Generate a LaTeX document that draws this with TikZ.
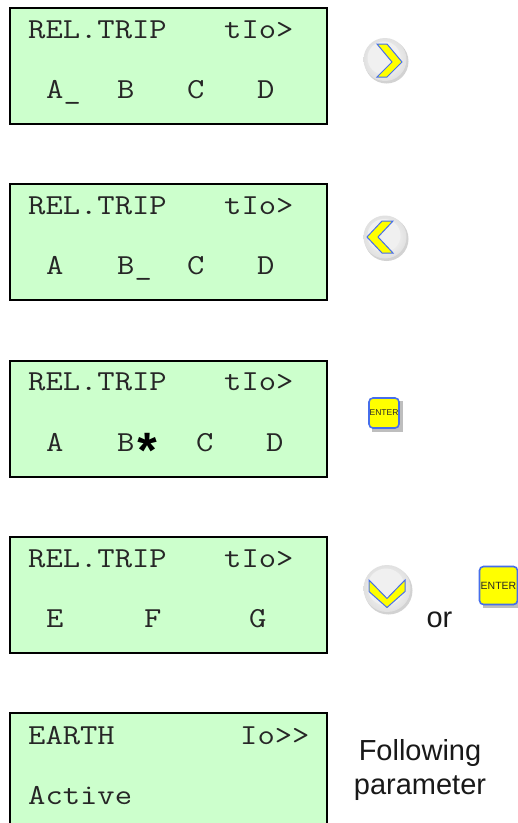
\documentclass[tikz,border=0pt]{standalone}
\usepackage{fontspec}
\setmainfont{Liberation Sans}
\newfontfamily\starfont{Liberation Mono}
\setmonofont[FakeStretch=1.16]{Latin Modern Mono}
\usetikzlibrary{calc}
\definecolor{lcdgreen}{RGB}{204,255,204}
\definecolor{keyblue}{RGB}{70,110,235}
\definecolor{keyyellow}{RGB}{255,255,0}
\definecolor{keygrey}{RGB}{190,190,190}
\tikzset{
  x=1pt,y=-1pt,
  lcdbox/.style={draw=black,line width=2pt,fill=lcdgreen,minimum width=317pt,minimum height=116pt,inner sep=0pt,anchor=north west},
  lcd/.style={font=\ttfamily\fontsize{29}{29}\selectfont,inner sep=0pt,anchor=base west,text=black!85},
  note/.style={font=\fontsize{29}{34}\selectfont,inner sep=0pt,align=center,text=black!90},
  chev/.style={draw=keyblue,line width=1pt,fill=keyyellow,line join=miter},
}
\newcommand{\roundkey}[3]{%
  \fill[keygrey!70] ($(#1)+(1.5,2)$) circle (#3);
  \shade[inner color=white,outer color=black!12] (#1) circle (#3-0.5);
  \fill[black!6] ($(#1)+(-1,-1.5)$) circle (#3-5.5);
  \begin{scope}[shift={(#1)}]#2\end{scope}}
\newcommand{\enterkey}[3]{%
  \fill[keygrey] ($(#1)+(-#2/2+3,-#2/2+3)$) rectangle ($(#1)+(#2/2+3.5,#2/2+3.5)$);
  \node[draw=keyblue,line width=1.6pt,fill=keyyellow,rounded corners=4pt,minimum size=#2 pt,inner sep=0pt,font=\fontsize{#3}{#3}\selectfont,text=black!85] at (#1) {ENTER};}
\begin{document}
\begin{tikzpicture}
\useasboundingbox (0,0) rectangle (518,823);
\fill[white] (0,0) rectangle (518,823);
\begin{scope}
\clip (0,0) rectangle (518,823);
\node[lcdbox] (d1) at (9,7) {};
\node[lcdbox] (d2) at (9,183) {};
\node[lcdbox] (d3) at (9,359.5) {};
\node[lcdbox] (d4) at (9,536) {};
\node[lcdbox,minimum height=130pt] (d5) at (9,712) {};
\end{scope}
% display 1
\node[lcd] (t1a) at (28,38) {REL.TRIP};
\node[lcd] (t1b) at (224,38) {tIo>};
\node[lcd] (t1c) at (46,98) {A\_};
\node[lcd] (t1d) at (117,98) {B};
\node[lcd] (t1e) at (187,98) {C};
\node[lcd] (t1f) at (257,98) {D};
% display 2
\node[lcd] (t2a) at (28,214) {REL.TRIP};
\node[lcd] (t2b) at (224,214) {tIo>};
\node[lcd] (t2c) at (46,274) {A};
\node[lcd] (t2d) at (117,274) {B\_};
\node[lcd] (t2e) at (187,274) {C};
\node[lcd] (t2f) at (257,274) {D};
% display 3
\node[lcd] (t3a) at (28,390) {REL.TRIP};
\node[lcd] (t3b) at (224,390) {tIo>};
\node[lcd] (t3c) at (46,451) {A};
\node[lcd] (t3d) at (117,451) {B};
\node[inner sep=0pt,anchor=base west,font=\starfont\bfseries\fontsize{50}{50}\selectfont] (t3s) at (132.5,469.5) {*};
\node[lcd] (t3e) at (196,451) {C};
\node[lcd] (t3f) at (266,451) {D};
% display 4
\node[lcd] (t4a) at (28,567) {REL.TRIP};
\node[lcd] (t4b) at (224,567) {tIo>};
\node[lcd] (t4c) at (46,627) {E};
\node[lcd] (t4d) at (144,627) {F};
\node[lcd] (t4e) at (249,627) {G};
% display 5
\node[lcd] (t5a) at (28,744) {EARTH};
\node[lcd] (t5b) at (240,744) {Io>>};
\node[lcd] (t5c) at (28,804) {Active};
% keys
\coordinate (k1) at (385,59.5);
\coordinate (k2) at (385,237);
\coordinate (k4) at (387,588.5);
\roundkey{k1}{\filldraw[chev] (-8,-15.5) -- (2,-15.5) -- (17,2.5) -- (2,17.5) -- (-8,17.5) -- (7,2.5) -- cycle;}{22}
\roundkey{k2}{\filldraw[chev] (8,-16) -- (-3,-16) -- (-18,0) -- (-3,16) -- (8,16) -- (-7,0) -- cycle;}{22}
\roundkey{k4}{\filldraw[chev] (-18,-8.5) -- (0,10) -- (18,-8.5) -- (18,3) -- (0,19) -- (-18,3) -- cycle;}{24}
\coordinate (k3) at (384,413);
\coordinate (k5) at (498.5,585.5);
\enterkey{k3}{30}{8.5}
\enterkey{k5}{38}{10.5}
\node[note,anchor=base] (or) at (439.5,627) {or};
\node[note] (fp) at (420,769.5) {Following\\parameter};
\end{tikzpicture}
\end{document}
